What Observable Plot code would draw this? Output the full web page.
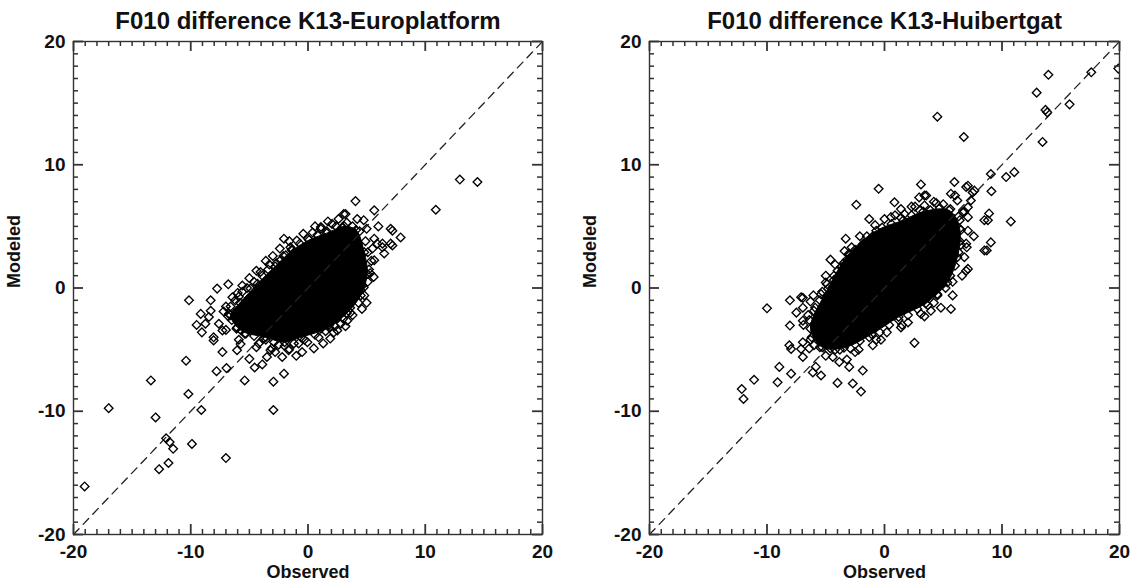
<!DOCTYPE html>
<html><head><meta charset="utf-8">
<script src="https://cdn.jsdelivr.net/npm/d3@7"></script>
<script src="https://cdn.jsdelivr.net/npm/@observablehq/plot@0.6"></script>
<style>
html,body{margin:0;padding:0;background:#fff;}
#wrap{position:relative;width:1135px;height:584px;overflow:hidden;}
#wrap svg{position:absolute;top:0;overflow:visible;}
</style></head><body><div id="wrap"></div>
<script>
// ---- texts ----
const titles = ["F010 difference K13-Europlatform", "F010 difference K13-Huibertgat"];
const xLabel = "Observed";
const yLabel = "Modeled";
// ---- ticks ----
const majorTicks = [-20, -10, 0, 10, 20];
const majorTickLabels = ["-20", "-10", "0", "10", "20"];
const minorTicks = [-19,-18,-17,-16,-15,-14,-13,-12,-11,-9,-8,-7,-6,-5,-4,-3,-2,-1,1,2,3,4,5,6,7,8,9,11,12,13,14,15,16,17,18,19];
const diagonal = [-20, 20];

// ---- left panel: individual points [observed, modeled] ----
const leftPoints = [
  [-19.05,-16.1],[-17.0,-9.75],[-13.4,-7.5],[-13.0,-10.5],[-12.7,-14.7],[-11.9,-14.2],[-11.8,-12.5],[-11.5,-13.05],
  [-12.1,-12.2],[-10.4,-5.9],[-10.2,-8.6],[-9.9,-12.65],[-9.1,-9.9],[-7.8,-6.75],[-6.95,-6.5],[-7.0,-13.8],
  [-5.4,-7.5],[-2.95,-9.9],[-2.95,-7.6],[-2.05,-6.95],[-3.9,-6.2],[-4.55,-6.45],[-5.0,-5.75],[-6.05,-5.05],
  [-3.1,-4.9],[-1.6,-4.95],[10.9,6.35],[12.95,8.8],[14.45,8.6],
  [4.05,7.05],[3.05,6.0],[2.05,5.2],[1.1,4.8],[-2.05,4.0],[-0.95,3.85],[-2.35,2.25],[-4.05,1.3],[-7.75,-0.05],
  [-5.6,0.2],[-4.9,-0.05],[-6.45,-0.75],[-8.3,-1.0],[-10.15,-1.0],[-9.15,-2.1],[-8.45,-2.35],[-6.75,-2.1],
  [-9.05,-3.6],[-8.05,-4.25],[-7.3,-3.45],[-6.05,-3.2],[-5.75,-4.55],[-0.05,-4.4],[-1.65,-5.05],[-3.2,-5.05],
  [2.2,-3.6],[1.1,-3.3],[3.35,-2.65],[2.95,-1.4],[5.65,6.3],[7.2,4.65],[7.9,4.1],[6.35,3.6],[7.05,3.6],
  [5.65,2.25],[4.75,0.05],[2.5,-3.45],[-1.9,2.65],[1.1,4.95],[-8.3,-1.85],[-8.75,-2.9],[-8.05,-4.0],
  [7.05,4.8],[6.35,3.3],[7.2,3.45],[5.65,4.0],[4.75,5.5],[3.2,6.0],[4.65,0.2],[4.05,-0.45],[2.8,-2.9],
  [-3.3,1.9],[-2.8,0.6],[-4.5,-1.0],[-5.2,-2.0],[-3.6,-4.2],[-2.5,-4.6],[-0.8,-4.5],[0.9,-4.0],[1.8,-3.0],
  [3.6,-1.6],[4.5,-0.2],[5.2,1.5],[5.5,3.2],[5.0,4.8],[4.2,5.6],[2.6,5.6],[0.4,4.5],[-1.5,3.3],[-3.0,2.6],
  [-5.0,0.8],[-6.0,-0.4],[-7.0,-1.5],[-6.5,-2.6],[-7.6,-2.9],[-5.3,-3.7],[-4.4,-4.8],[-2.2,-5.6],[-0.5,-5.2],
  [6.5,2.8],[6.0,5.0],[3.8,-2.2],[-6.8,0.3],[-9.5,-3.0],[-7.3,-5.2],[-3.5,-5.6],[0.5,-4.9],[1.9,-4.1],
  [-6.6,-1.5],[-5.9,-0.7],[-5.2,0.0],[-4.6,0.5],[-3.9,1.0],[-3.4,1.5],[-2.7,2.0],[-2.1,2.6],[-1.4,3.1],
  [-0.7,3.6],[0.0,4.0],[0.8,4.3],[1.6,4.6],[2.4,5.0],[3.3,5.3],[3.8,5.0],[4.4,4.6],[4.9,3.8],[5.1,2.9],
  [5.4,2.2],[5.3,1.2],[5.1,0.5],[4.8,-0.6],[4.3,-1.2],[3.6,-2.0],[3.0,-2.5],[2.3,-3.1],[1.5,-3.5],[0.6,-3.8],
  [-0.3,-4.2],[-1.2,-4.5],[-2.0,-4.7],[-2.9,-4.4],[-3.8,-4.1],[-4.6,-3.9],[-5.4,-3.7],[-6.1,-3.3],[-6.8,-2.3],
  [-7.2,-1.9],[-6.2,-1.0],[-5.6,-0.3],[-4.4,1.4],[-3.6,2.2],[-2.4,3.2],[-1.6,3.8],[-0.4,4.4],[0.6,5.0],
  [1.7,5.4],[2.9,4.9],[5.9,3.6],[5.6,0.9],[5.0,-1.2],[4.6,-1.7],[3.2,-3.1],[1.3,-4.5],[-1.0,-5.5],[-2.8,-5.2],
  [-4.2,-4.5],[-5.9,-4.2],[-7.0,-3.4]
];
// saturated (fully overlapping) core of the left cloud, outline [observed, modeled]
const leftCore = [
  [-6.6,-2.2],[-5.8,-1.2],[-4.3,0.35],[-2.8,1.75],[-1.35,3.05],[0.1,3.9],[1.6,4.45],[3.1,5.0],[4.1,4.7],
  [4.8,2.9],[5.05,1.15],[4.5,-0.6],[3.3,-2.05],[1.8,-3.2],[-0.6,-4.0],[-2.0,-4.4],[-3.6,-4.0],[-5.7,-3.45]
];

// ---- right panel: individual points [observed, modeled] ----
const rightPoints = [
  [-10.0,-1.65],[-8.05,-1.0],[-6.95,-0.8],[-6.05,-0.6],[-5.0,0.45],[-4.3,0.65],[-6.95,-1.6],[-6.0,-1.85],
  [-8.05,-3.05],[-6.95,-2.65],[-8.1,-4.65],[-7.95,-4.95],[-6.95,-4.4],[-7.1,-4.95],[-6.95,-5.6],[-6.0,-4.65],
  [-5.0,-5.5],[-3.85,-6.0],[-3.0,-6.4],[-1.85,-6.7],[-4.0,-7.7],[-2.7,-7.75],[-2.0,-8.4],[-8.95,-6.4],
  [-7.95,-6.95],[-9.1,-7.65],[-11.1,-7.45],[-12.15,-8.2],[-12.0,-9.0],[-5.85,-6.4],[-5.4,-7.1],[-6.1,-6.85],
  [-1.0,-4.65],[-2.0,2.8],[-3.0,2.65],[-4.0,1.4],
  [-0.5,8.05],[3.1,8.4],[5.95,8.6],[7.1,8.3],[-2.4,6.75],[0.85,6.95],[3.4,7.5],[5.65,7.65],[7.65,7.9],
  [7.35,7.1],[8.5,5.5],[8.5,3.05],[7.1,5.75],[7.1,4.65],[6.95,3.6],[6.8,2.5],[6.95,1.4],[5.65,-1.7],
  [3.95,-1.85],[3.1,-2.1],[2.55,-4.45],[-7.1,-0.75],[-4.0,0.9],[0.55,5.75],[1.7,6.0],[3.4,6.7],
  [13.95,17.3],[12.95,15.85],[13.7,14.45],[13.85,14.25],[15.75,14.9],[13.45,11.85],[4.5,13.9],[6.75,12.25],
  [9.05,9.25],[10.35,9.0],[11.05,9.4],[9.1,7.85],[8.9,6.05],[8.8,5.5],[10.75,5.4],[9.05,3.7],[8.7,3.05],
  [3.55,7.5],[6.95,8.2],[1.4,6.4],[2.95,7.35],[7.1,6.55],[7.1,1.55],[7.5,7.75],[6.2,7.1],[6.65,6.15],[4.95,0.3],
  [17.6,17.5],[19.9,17.8],
  [-5.5,-1.0],[-4.8,-2.6],[-5.8,-3.6],[-4.2,-5.0],[-2.5,-5.2],[-0.3,-4.2],[1.5,-3.0],[2.8,-1.2],[4.5,-0.5],
  [5.8,0.5],[6.5,3.5],[6.4,5.5],[5.0,6.8],[2.3,6.6],[0.0,5.6],[-1.5,4.2],[-2.8,3.3],[-3.5,2.0],[-5.3,-0.3],
  [-6.5,-2.2],[-7.5,-2.0],[-6.3,-4.2],[-3.2,-5.8],[0.2,-3.6],[2.0,-2.8],[4.2,-1.2],[7.6,4.2],[6.0,7.5],
  [4.2,7.0],[-1.3,5.6],[-3.3,4.0],[-4.6,2.3],
  [-6.4,-2.6],[-5.9,-1.6],[-5.4,-0.5],[-4.9,0.3],[-4.3,1.0],[-3.7,1.7],[-3.2,2.3],[-2.5,3.1],[-1.8,3.6],
  [-1.0,4.2],[-0.2,4.9],[0.6,5.2],[1.4,5.7],[2.3,5.9],[3.0,6.3],[3.9,6.3],[4.7,6.5],[5.6,6.4],[6.3,5.8],
  [6.5,4.7],[6.4,3.8],[6.3,2.9],[6.0,1.8],[5.6,1.0],[5.2,0.0],[4.5,-0.6],[3.7,-1.4],[2.8,-1.7],[2.0,-2.2],
  [1.2,-2.6],[0.4,-3.0],[-0.4,-3.6],[-1.3,-4.0],[-2.1,-4.3],[-2.9,-4.9],[-3.8,-5.0],[-4.6,-4.9],[-5.5,-4.8],
  [-6.2,-4.0],[-6.9,-3.0],[-6.3,-1.1],[-5.0,1.0],[-4.2,1.9],[-3.4,3.0],[-2.1,4.2],[-0.8,5.1],[0.9,5.9],
  [2.6,6.6],[4.4,6.9],[6.8,6.2],[7.0,3.3],[6.6,1.0],[5.8,-0.6],[4.8,-1.6],[3.4,-2.3],[1.4,-3.2],[-0.7,-4.2],
  [-2.2,-5.0],[-4.4,-5.6],[-6.4,-4.9]
];
const rightCore = [
  [-6.3,-3.3],[-4.8,-0.05],[-3.05,2.75],[-0.7,4.65],[1.6,5.5],[3.3,6.2],[5.5,6.3],[6.4,4.8],[6.2,2.5],
  [5.35,0.45],[3.5,-1.25],[1.2,-2.35],[-1.1,-3.75],[-3.45,-4.85],[-5.3,-4.8]
];

const FONT = "'Liberation Sans', Arial, Helvetica, sans-serif";
const INK = "#111";
const AXIS = "#333";
const HEIGHT = 584, MT = 41, MB = 50;

// inward ticks on all four sides of the frame, drawn as short rules
function frameTicks(values, len, sw, frameW, frameH) {
  return [
    Plot.ruleX(values, {x: d => d, stroke: AXIS, strokeWidth: sw, insetTop: frameH - len}),
    Plot.ruleX(values, {x: d => d, stroke: AXIS, strokeWidth: sw, insetBottom: frameH - len}),
    Plot.ruleY(values, {y: d => d, stroke: AXIS, strokeWidth: sw, insetRight: frameW - len}),
    Plot.ruleY(values, {y: d => d, stroke: AXIS, strokeWidth: sw, insetLeft: frameW - len})
  ];
}

function panel({title, points, core, left, w, marginLeft, marginRight}) {
  const frameW = w - marginLeft - marginRight;
  const frameH = HEIGHT - MT - MB;
  const pts = points.map(([x, y]) => ({x, y}));
  const corePts = core.map(([x, y]) => ({x, y}));
  const diag = diagonal.map(v => ({x: v, y: v}));
  const dotOpts = {x: "x", y: "y", symbol: "diamond2", r: 3.9, stroke: "#000", strokeWidth: 1.35, fill: "none"};
  const fmt = (d) => majorTickLabels[majorTicks.indexOf(d)];
  const svg = Plot.plot({
    width: w, height: HEIGHT, marginLeft, marginRight, marginTop: MT, marginBottom: MB,
    style: {fontFamily: FONT, color: INK},
    x: {domain: [-20, 20], axis: null, label: null},
    y: {domain: [-20, 20], axis: null, label: null},
    marks: [
      Plot.line(corePts, {x: "x", y: "y", fill: "#000", stroke: "#000", strokeWidth: 1, curve: "catmull-rom-closed"}),
      Plot.line(diag, {x: "x", y: "y", stroke: "#222", strokeWidth: 1.3, strokeDasharray: "8,6"}),
      Plot.dot(pts, {...dotOpts, clip: "frame"}),
      Plot.dot(corePts, dotOpts),
      Plot.frame({stroke: AXIS, strokeWidth: 1.4}),
      ...frameTicks(majorTicks, 10, 1.8, frameW, frameH),
      ...frameTicks(minorTicks, 5, 1.5, frameW, frameH),
      // tick labels
      Plot.axisX(majorTicks, {anchor: "bottom", tickSize: 0, tickPadding: 10, tickFormat: fmt, fontSize: 19, fontWeight: "bold", fill: INK, label: null}),
      Plot.axisY(majorTicks, {anchor: "left", tickSize: 0, tickPadding: 8, tickFormat: fmt, fontSize: 19, fontWeight: "bold", fill: INK, label: null}),
      // titles and axis names
      Plot.text([title], {frameAnchor: "top", lineAnchor: "middle", dy: -20, text: d => d, fontSize: 24, fontWeight: "bold", fill: INK}),
      Plot.text([xLabel], {frameAnchor: "bottom", lineAnchor: "middle", dy: 38, text: d => d, fontSize: 18, fontWeight: "bold", fill: INK}),
      Plot.text([yLabel], {frameAnchor: "left", lineAnchor: "middle", dx: -59, rotate: -90, text: d => d, fontSize: 18, fontWeight: "bold", fill: INK})
    ]
  });
  svg.style.left = left + "px";
  svg.style.background = "transparent";
  return svg;
}

const wrap = document.getElementById("wrap");
wrap.appendChild(panel({title: titles[0], points: leftPoints, core: leftCore, left: 0, w: 567, marginLeft: 73, marginRight: 25}));
wrap.appendChild(panel({title: titles[1], points: rightPoints, core: rightCore, left: 567, w: 568, marginLeft: 82, marginRight: 16}));
</script>
</body></html>
